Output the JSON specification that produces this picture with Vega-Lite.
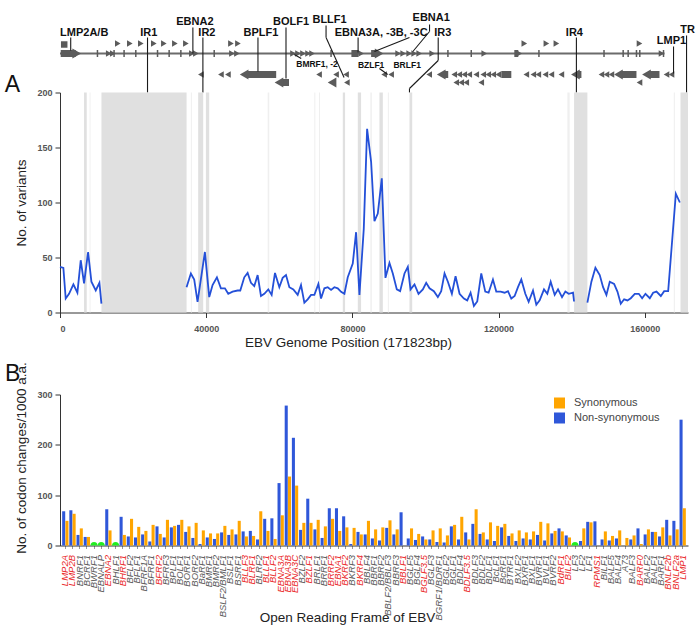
{
  "$schema": "https://vega.github.io/schema/vega-lite/v6.json",
  "padding": {"left": 4, "top": 11.5, "right": 5, "bottom": 5},
  "background": "white",
  "bounds": "flush",
  "spacing": 82,
  "config": {
    "view": {"stroke": null},
    "font": "Liberation Sans",
    "axis": {"grid": false, "domainColor": "#333", "domainWidth": 1, "tickColor": "#333", "tickSize": 5, "labelColor": "#555", "labelFontSize": 9, "labelFontWeight": "bold", "titleFontSize": 13.5, "titleFontWeight": "normal", "titleColor": "#222"},
    "title": {"fontSize": 23, "fontWeight": "normal", "color": "#111", "anchor": "start", "frame": "group"}
  },
  "datasets": {
    "backbone": [{"start": 0, "end": 165400, "row": 53}],
    "blocks": [
      {"start": 192, "end": 4301, "row": 53},
      {"start": 79729, "end": 81647, "row": 53},
      {"start": 85123, "end": 86767, "row": 53},
      {"start": 124299, "end": 125394, "row": 53},
      {"start": 50929, "end": 59148, "row": 74},
      {"start": 104849, "end": 106218, "row": 74},
      {"start": 120740, "end": 123480, "row": 74},
      {"start": 141563, "end": 142659, "row": 74},
      {"start": 153340, "end": 157723, "row": 74},
      {"start": 161009, "end": 164022, "row": 74},
      {"start": 60466, "end": 62658, "row": 82}
    ],
    "ticks": [
      {"pos": 10247, "row": 53}, {"pos": 14794, "row": 53}, {"pos": 17534, "row": 53}, {"pos": 20740, "row": 53},
      {"pos": 26685, "row": 53}, {"pos": 29863, "row": 53}, {"pos": 33068, "row": 53}, {"pos": 42191, "row": 53},
      {"pos": 74164, "row": 53}, {"pos": 106136, "row": 53}, {"pos": 112520, "row": 53}, {"pos": 131038, "row": 53},
      {"pos": 148846, "row": 53}, {"pos": 154083, "row": 53}, {"pos": 155452, "row": 53}, {"pos": 157726, "row": 53},
      {"pos": 158630, "row": 53}, {"pos": 165123, "row": 53}
    ],
    "arrows": [
      {"pos": 1151, "row": 44, "strand": "."},
      {"pos": 15808, "row": 43, "strand": "+"}, {"pos": 19096, "row": 43, "strand": "+"}, {"pos": 22109, "row": 43, "strand": "+"},
      {"pos": 25671, "row": 43, "strand": "+"}, {"pos": 28411, "row": 43, "strand": "+"}, {"pos": 31424, "row": 43, "strand": "+"},
      {"pos": 34438, "row": 43, "strand": "+"}, {"pos": 46767, "row": 43, "strand": "+"}, {"pos": 48685, "row": 43, "strand": "+"},
      {"pos": 127042, "row": 43, "strand": "+"}, {"pos": 133069, "row": 43, "strand": "+"}, {"pos": 135809, "row": 43, "strand": "+"},
      {"pos": 158548, "row": 43, "strand": "+"},
      {"pos": 13342, "row": 53, "strand": "+"}, {"pos": 14438, "row": 53, "strand": "+"}, {"pos": 36082, "row": 53, "strand": "+"},
      {"pos": 37178, "row": 53, "strand": "+"}, {"pos": 47041, "row": 53, "strand": "+"}, {"pos": 48411, "row": 53, "strand": "+"},
      {"pos": 63752, "row": 53, "strand": "+"}, {"pos": 65123, "row": 53, "strand": "+"}, {"pos": 66492, "row": 53, "strand": "+"},
      {"pos": 67862, "row": 53, "strand": "+"}, {"pos": 68958, "row": 53, "strand": "+"}, {"pos": 82383, "row": 53, "strand": "+"},
      {"pos": 92518, "row": 53, "strand": "+"}, {"pos": 93888, "row": 53, "strand": "+"}, {"pos": 95532, "row": 53, "strand": "+"},
      {"pos": 96901, "row": 53, "strand": "+"}, {"pos": 98271, "row": 53, "strand": "+"}, {"pos": 101832, "row": 53, "strand": "+"},
      {"pos": 116079, "row": 53, "strand": "+"}, {"pos": 125668, "row": 53, "strand": "+"}, {"pos": 164575, "row": 53, "strand": "+"},
      {"pos": 38548, "row": 74, "strand": "-"}, {"pos": 44027, "row": 74, "strand": "-"}, {"pos": 45945, "row": 74, "strand": "-"},
      {"pos": 70877, "row": 74, "strand": "-"}, {"pos": 75535, "row": 74, "strand": "-"}, {"pos": 78274, "row": 74, "strand": "-"},
      {"pos": 88687, "row": 74, "strand": "-"}, {"pos": 90604, "row": 74, "strand": "-"}, {"pos": 101015, "row": 74, "strand": "-"},
      {"pos": 107864, "row": 74, "strand": "-"}, {"pos": 109233, "row": 74, "strand": "-"}, {"pos": 110603, "row": 74, "strand": "-"},
      {"pos": 111973, "row": 74, "strand": "-"}, {"pos": 113891, "row": 74, "strand": "-"}, {"pos": 115809, "row": 74, "strand": "-"},
      {"pos": 117179, "row": 74, "strand": "-"}, {"pos": 118549, "row": 74, "strand": "-"}, {"pos": 119918, "row": 74, "strand": "-"},
      {"pos": 127590, "row": 74, "strand": "-"}, {"pos": 129508, "row": 74, "strand": "-"}, {"pos": 130878, "row": 74, "strand": "-"},
      {"pos": 132795, "row": 74, "strand": "-"}, {"pos": 134439, "row": 74, "strand": "-"}, {"pos": 137179, "row": 74, "strand": "-"},
      {"pos": 148137, "row": 74, "strand": "-"}, {"pos": 149507, "row": 74, "strand": "-"}, {"pos": 150877, "row": 74, "strand": "-"},
      {"pos": 165945, "row": 74, "strand": "-"}, {"pos": 167316, "row": 74, "strand": "-"},
      {"pos": 78500, "row": 82, "strand": "-"}, {"pos": 108412, "row": 82, "strand": "-"}, {"pos": 109781, "row": 82, "strand": "-"},
      {"pos": 111151, "row": 82, "strand": "-"}, {"pos": 115260, "row": 82, "strand": "-"}, {"pos": 158548, "row": 82, "strand": "-"}
    ],
    "heads": [
      {"pos": 4575, "row": 53, "strand": "+"}, {"pos": 87314, "row": 53, "strand": "+"},
      {"pos": 50381, "row": 74, "strand": "-"}, {"pos": 104301, "row": 74, "strand": "-"}, {"pos": 141015, "row": 74, "strand": "-"},
      {"pos": 152792, "row": 74, "strand": "-"}, {"pos": 160461, "row": 74, "strand": "-"},
      {"pos": 59918, "row": 82, "strand": "-"}, {"pos": 74437, "row": 82, "strand": "-"}
    ],
    "leaders": [
      {"x1": 2931, "r1": 37, "x2": 2931, "r2": 50},
      {"x1": 23945, "r1": 37, "x2": 23945, "r2": 92},
      {"x1": 36356, "r1": 27, "x2": 36356, "r2": 53},
      {"x1": 39096, "r1": 37, "x2": 39096, "r2": 92},
      {"x1": 54163, "r1": 37, "x2": 54163, "r2": 71},
      {"x1": 61834, "r1": 27, "x2": 61834, "r2": 78},
      {"x1": 72793, "r1": 25, "x2": 72793, "r2": 37},
      {"x1": 72793, "r1": 37, "x2": 77724, "r2": 77},
      {"x1": 66000, "r1": 58, "x2": 64107, "r2": 54},
      {"x1": 81560, "r1": 37, "x2": 81560, "r2": 52},
      {"x1": 95620, "r1": 37, "x2": 86030, "r2": 51},
      {"x1": 101105, "r1": 24, "x2": 101105, "r2": 31},
      {"x1": 101105, "r1": 31, "x2": 96547, "r2": 51},
      {"x1": 103478, "r1": 37, "x2": 103478, "r2": 60},
      {"x1": 103478, "r1": 60, "x2": 95617, "r2": 88},
      {"x1": 95617, "r1": 88, "x2": 95617, "r2": 92},
      {"x1": 87382, "r1": 68, "x2": 89666, "r2": 74},
      {"x1": 141289, "r1": 37, "x2": 141289, "r2": 92},
      {"x1": 171425, "r1": 35, "x2": 171425, "r2": 92},
      {"x1": 167864, "r1": 46, "x2": 167864, "r2": 73}
    ],
    "maplabels": [
      {"label": "LMP2A/B", "pos": 6630, "row": 32, "cls": "major"},
      {"label": "IR1", "pos": 24301, "row": 32, "cls": "major"},
      {"label": "EBNA2", "pos": 36904, "row": 21, "cls": "major"},
      {"label": "IR2", "pos": 40192, "row": 32, "cls": "major"},
      {"label": "BPLF1", "pos": 54985, "row": 32, "cls": "major"},
      {"label": "BOLF1", "pos": 63204, "row": 21, "cls": "major"},
      {"label": "BLLF1", "pos": 73753, "row": 19, "cls": "major"},
      {"label": "EBNA3A, -3B, -3C", "pos": 87862, "row": 32, "cls": "major"},
      {"label": "EBNA1", "pos": 101562, "row": 17, "cls": "major"},
      {"label": "IR3", "pos": 104712, "row": 32, "cls": "major"},
      {"label": "IR4", "pos": 140739, "row": 32, "cls": "major"},
      {"label": "TR", "pos": 171699, "row": 29, "cls": "major"},
      {"label": "LMP1", "pos": 167316, "row": 40, "cls": "major"},
      {"label": "BMRF1, -2", "pos": 70329, "row": 63, "cls": "minor"},
      {"label": "BZLF1", "pos": 85123, "row": 64, "cls": "minor"},
      {"label": "BRLF1", "pos": 94986, "row": 64, "cls": "minor"}
    ],
    "panelletters": [{"label": "A", "pos": -15150, "row": 91}],
    "bands": [
      {"start": 6575, "end": 7315, "kind": "major"},
      {"start": 8100, "end": 8350, "kind": "minor"},
      {"start": 11342, "end": 34630, "kind": "major"},
      {"start": 35808, "end": 36082, "kind": "minor"},
      {"start": 37808, "end": 39178, "kind": "major"},
      {"start": 39918, "end": 40822, "kind": "major"},
      {"start": 56822, "end": 57260, "kind": "minor"},
      {"start": 69588, "end": 69863, "kind": "minor"},
      {"start": 70877, "end": 71150, "kind": "minor"},
      {"start": 77370, "end": 78000, "kind": "major"},
      {"start": 81480, "end": 82380, "kind": "major"},
      {"start": 84930, "end": 85310, "kind": "minor"},
      {"start": 87400, "end": 88330, "kind": "major"},
      {"start": 89700, "end": 89970, "kind": "minor"},
      {"start": 95620, "end": 96360, "kind": "major"},
      {"start": 138820, "end": 139450, "kind": "minor"},
      {"start": 140650, "end": 144300, "kind": "major"},
      {"start": 167940, "end": 168220, "kind": "minor"},
      {"start": 169780, "end": 171823, "kind": "major"}
    ],
    "variants": [
      {"pos": 0, "n": 41.5, "seg": 1}, {"pos": 923, "n": 40.5, "seg": 1}, {"pos": 1562, "n": 12.7, "seg": 1}, {"pos": 2475, "n": 17, "seg": 1},
      {"pos": 3663, "n": 25.5, "seg": 1}, {"pos": 4759, "n": 18, "seg": 1}, {"pos": 5671, "n": 47.5, "seg": 1}, {"pos": 6584, "n": 26.4, "seg": 1},
      {"pos": 7680, "n": 55, "seg": 1}, {"pos": 8594, "n": 28, "seg": 1}, {"pos": 9781, "n": 20, "seg": 1}, {"pos": 10786, "n": 27, "seg": 1},
      {"pos": 11334, "n": 8, "seg": 1},
      {"pos": 34622, "n": 23, "seg": 2}, {"pos": 35808, "n": 35.5, "seg": 2}, {"pos": 36722, "n": 30, "seg": 2}, {"pos": 37634, "n": 9.7, "seg": 2},
      {"pos": 39643, "n": 55, "seg": 2}, {"pos": 40829, "n": 14, "seg": 2}, {"pos": 41745, "n": 25, "seg": 2}, {"pos": 42931, "n": 32, "seg": 2},
      {"pos": 44027, "n": 22, "seg": 2}, {"pos": 45123, "n": 22, "seg": 2}, {"pos": 46035, "n": 17, "seg": 2}, {"pos": 47224, "n": 19, "seg": 2},
      {"pos": 48594, "n": 20, "seg": 2}, {"pos": 49323, "n": 20, "seg": 2}, {"pos": 50419, "n": 32, "seg": 2}, {"pos": 51333, "n": 36, "seg": 2},
      {"pos": 52246, "n": 27, "seg": 2}, {"pos": 53158, "n": 24, "seg": 2}, {"pos": 54073, "n": 34, "seg": 2}, {"pos": 54986, "n": 15, "seg": 2},
      {"pos": 55898, "n": 17, "seg": 2}, {"pos": 56994, "n": 21, "seg": 2}, {"pos": 57909, "n": 16, "seg": 2}, {"pos": 58822, "n": 36, "seg": 2},
      {"pos": 60008, "n": 23, "seg": 2}, {"pos": 60923, "n": 31.5, "seg": 2}, {"pos": 61836, "n": 34, "seg": 2}, {"pos": 62749, "n": 23, "seg": 2},
      {"pos": 63844, "n": 21, "seg": 2}, {"pos": 65033, "n": 16, "seg": 2}, {"pos": 65945, "n": 25, "seg": 2}, {"pos": 66858, "n": 9, "seg": 2},
      {"pos": 67772, "n": 12, "seg": 2}, {"pos": 68685, "n": 16, "seg": 2}, {"pos": 69598, "n": 16, "seg": 2}, {"pos": 70694, "n": 26, "seg": 2},
      {"pos": 71424, "n": 12.7, "seg": 2}, {"pos": 72337, "n": 22, "seg": 2}, {"pos": 73251, "n": 23, "seg": 2}, {"pos": 74164, "n": 20.6, "seg": 2},
      {"pos": 75077, "n": 23, "seg": 2}, {"pos": 75991, "n": 22, "seg": 2}, {"pos": 76904, "n": 18.8, "seg": 2}, {"pos": 77816, "n": 17, "seg": 2},
      {"pos": 78729, "n": 32, "seg": 2}, {"pos": 80099, "n": 44.5, "seg": 2}, {"pos": 81012, "n": 73, "seg": 2}, {"pos": 81926, "n": 16, "seg": 2},
      {"pos": 83113, "n": 76, "seg": 2}, {"pos": 84026, "n": 167, "seg": 2}, {"pos": 85122, "n": 137, "seg": 2}, {"pos": 86035, "n": 83, "seg": 2},
      {"pos": 86948, "n": 90, "seg": 2}, {"pos": 88044, "n": 122, "seg": 2}, {"pos": 89048, "n": 31.5, "seg": 2}, {"pos": 90144, "n": 45, "seg": 2},
      {"pos": 91057, "n": 35.5, "seg": 2}, {"pos": 92153, "n": 21, "seg": 2}, {"pos": 93066, "n": 19.4, "seg": 2}, {"pos": 94254, "n": 35.5, "seg": 2},
      {"pos": 95167, "n": 41.5, "seg": 2}, {"pos": 95898, "n": 21, "seg": 2}, {"pos": 96993, "n": 25.5, "seg": 2}, {"pos": 98089, "n": 17, "seg": 2},
      {"pos": 99276, "n": 21, "seg": 2}, {"pos": 100190, "n": 27, "seg": 2}, {"pos": 101103, "n": 22, "seg": 2}, {"pos": 102290, "n": 19.4, "seg": 2},
      {"pos": 103386, "n": 14, "seg": 2}, {"pos": 104299, "n": 19.4, "seg": 2}, {"pos": 105212, "n": 35.5, "seg": 2}, {"pos": 106126, "n": 28, "seg": 2},
      {"pos": 107222, "n": 17, "seg": 2}, {"pos": 108226, "n": 33, "seg": 2}, {"pos": 109322, "n": 17, "seg": 2}, {"pos": 110509, "n": 12.7, "seg": 2},
      {"pos": 111423, "n": 11, "seg": 2}, {"pos": 112336, "n": 18, "seg": 2}, {"pos": 113249, "n": 6, "seg": 2}, {"pos": 114162, "n": 10, "seg": 2},
      {"pos": 115258, "n": 35.5, "seg": 2}, {"pos": 116354, "n": 19, "seg": 2}, {"pos": 117267, "n": 18, "seg": 2}, {"pos": 118454, "n": 30, "seg": 2},
      {"pos": 119367, "n": 19, "seg": 2}, {"pos": 120554, "n": 19, "seg": 2}, {"pos": 121650, "n": 18, "seg": 2}, {"pos": 122563, "n": 19.4, "seg": 2},
      {"pos": 123476, "n": 12.7, "seg": 2}, {"pos": 124389, "n": 15, "seg": 2}, {"pos": 125303, "n": 23, "seg": 2}, {"pos": 126216, "n": 30, "seg": 2},
      {"pos": 127312, "n": 17, "seg": 2}, {"pos": 128225, "n": 9.7, "seg": 2}, {"pos": 129412, "n": 20, "seg": 2}, {"pos": 130325, "n": 7, "seg": 2},
      {"pos": 131238, "n": 11, "seg": 2}, {"pos": 132425, "n": 21, "seg": 2}, {"pos": 133339, "n": 17, "seg": 2}, {"pos": 134252, "n": 28, "seg": 2},
      {"pos": 135348, "n": 16, "seg": 2}, {"pos": 136261, "n": 21, "seg": 2}, {"pos": 137357, "n": 14, "seg": 2}, {"pos": 138270, "n": 19, "seg": 2},
      {"pos": 139183, "n": 17, "seg": 2}, {"pos": 140370, "n": 18, "seg": 2}, {"pos": 140644, "n": 10, "seg": 2},
      {"pos": 144297, "n": 9, "seg": 3}, {"pos": 145393, "n": 28, "seg": 3}, {"pos": 146489, "n": 40.6, "seg": 3}, {"pos": 147676, "n": 34, "seg": 3},
      {"pos": 148589, "n": 23, "seg": 3}, {"pos": 149502, "n": 16, "seg": 3}, {"pos": 150416, "n": 28, "seg": 3}, {"pos": 151603, "n": 26, "seg": 3},
      {"pos": 152516, "n": 19, "seg": 3}, {"pos": 153429, "n": 8, "seg": 3}, {"pos": 154343, "n": 12, "seg": 3}, {"pos": 155256, "n": 11, "seg": 3},
      {"pos": 156169, "n": 13, "seg": 3}, {"pos": 157265, "n": 17, "seg": 3}, {"pos": 158361, "n": 17, "seg": 3}, {"pos": 159274, "n": 13, "seg": 3},
      {"pos": 160187, "n": 17, "seg": 3}, {"pos": 161374, "n": 13, "seg": 3}, {"pos": 162287, "n": 18, "seg": 3}, {"pos": 163201, "n": 19, "seg": 3},
      {"pos": 164388, "n": 15, "seg": 3}, {"pos": 165301, "n": 19.4, "seg": 3}, {"pos": 166397, "n": 19.4, "seg": 3}, {"pos": 168498, "n": 108, "seg": 3},
      {"pos": 169594, "n": 100, "seg": 3}
    ],
    "orfs": [
      {"orf": "LMP2A", "Non-synonymous": 68, "Synonymous": 49},
      {"orf": "LMP2B", "Non-synonymous": 70, "Synonymous": 63},
      {"orf": "BNRF1", "Non-synonymous": 21, "Synonymous": 34},
      {"orf": "BCRF1", "Non-synonymous": 17, "Synonymous": 17},
      {"orf": "BWRF1", "Non-synonymous": 0, "Synonymous": 0},
      {"orf": "EBNALP", "Non-synonymous": 0, "Synonymous": 0},
      {"orf": "EBNA2", "Non-synonymous": 72, "Synonymous": 30},
      {"orf": "BHLF1", "Non-synonymous": 0, "Synonymous": 0},
      {"orf": "BHRF1", "Non-synonymous": 57, "Synonymous": 21},
      {"orf": "BFLF2", "Non-synonymous": 18, "Synonymous": 53},
      {"orf": "BFLF1", "Non-synonymous": 16, "Synonymous": 37},
      {"orf": "BFRF1A", "Non-synonymous": 22, "Synonymous": 29},
      {"orf": "BFRF1", "Non-synonymous": 8, "Synonymous": 41},
      {"orf": "BFRF2", "Non-synonymous": 38, "Synonymous": 23},
      {"orf": "BFRF3", "Non-synonymous": 16, "Synonymous": 51},
      {"orf": "BPLF1", "Non-synonymous": 36, "Synonymous": 39},
      {"orf": "BOLF1", "Non-synonymous": 41, "Synonymous": 51},
      {"orf": "BORF1", "Non-synonymous": 27, "Synonymous": 38},
      {"orf": "BORF2", "Non-synonymous": 15, "Synonymous": 45},
      {"orf": "BaRF1", "Non-synonymous": 3, "Synonymous": 30},
      {"orf": "BMRF1", "Non-synonymous": 16, "Synonymous": 24},
      {"orf": "BMRF2", "Non-synonymous": 13, "Synonymous": 24},
      {"orf": "BSLF2/BMLF1", "Non-synonymous": 26, "Synonymous": 39},
      {"orf": "BSLF1", "Non-synonymous": 21, "Synonymous": 32},
      {"orf": "BSRF1", "Non-synonymous": 22, "Synonymous": 49},
      {"orf": "BLLF3", "Non-synonymous": 28, "Synonymous": 18},
      {"orf": "BLRF1", "Non-synonymous": 29, "Synonymous": 19},
      {"orf": "BLRF2", "Non-synonymous": 12, "Synonymous": 68},
      {"orf": "BLLF1", "Non-synonymous": 53, "Synonymous": 29},
      {"orf": "BLLF2", "Non-synonymous": 54, "Synonymous": 13},
      {"orf": "EBNA3A", "Non-synonymous": 124, "Synonymous": 60},
      {"orf": "EBNA3B", "Non-synonymous": 278, "Synonymous": 137},
      {"orf": "EBNA3C", "Non-synonymous": 214, "Synonymous": 119},
      {"orf": "BZLF2", "Non-synonymous": 31, "Synonymous": 45},
      {"orf": "BZLF1", "Non-synonymous": 93, "Synonymous": 45},
      {"orf": "BRLF1", "Non-synonymous": 32, "Synonymous": 51},
      {"orf": "BRRF1", "Non-synonymous": 15, "Synonymous": 38},
      {"orf": "BRRF2", "Non-synonymous": 74, "Synonymous": 53},
      {"orf": "EBNA1", "Non-synonymous": 74, "Synonymous": 29},
      {"orf": "BKRF2", "Non-synonymous": 58, "Synonymous": 36},
      {"orf": "BKRF3", "Non-synonymous": 3, "Synonymous": 35},
      {"orf": "BKRF4", "Non-synonymous": 27, "Synonymous": 22},
      {"orf": "BBLF4", "Non-synonymous": 22, "Synonymous": 49},
      {"orf": "BBRF1", "Non-synonymous": 14, "Synonymous": 32},
      {"orf": "BBRF2", "Non-synonymous": 10, "Synonymous": 36},
      {"orf": "BBLF2/BBLF3", "Non-synonymous": 35, "Synonymous": 50},
      {"orf": "BBRF3", "Non-synonymous": 22, "Synonymous": 32},
      {"orf": "BBLF1", "Non-synonymous": 66, "Synonymous": 0},
      {"orf": "BGLF5", "Non-synonymous": 14, "Synonymous": 34},
      {"orf": "BGLF4", "Non-synonymous": 11, "Synonymous": 23},
      {"orf": "BGLF3.5", "Non-synonymous": 18, "Synonymous": 12},
      {"orf": "BGLF3", "Non-synonymous": 12, "Synonymous": 30},
      {"orf": "BGRF1/BDRF1", "Non-synonymous": 7, "Synonymous": 34},
      {"orf": "BGLF2", "Non-synonymous": 6, "Synonymous": 20},
      {"orf": "BGLF1", "Non-synonymous": 38, "Synonymous": 41},
      {"orf": "BDLF4", "Non-synonymous": 12, "Synonymous": 57},
      {"orf": "BDLF3.5", "Non-synonymous": 26, "Synonymous": 12},
      {"orf": "BDLF3", "Non-synonymous": 43, "Synonymous": 72},
      {"orf": "BDLF2", "Non-synonymous": 23, "Synonymous": 26},
      {"orf": "BDLF1", "Non-synonymous": 12, "Synonymous": 46},
      {"orf": "BcLF1", "Non-synonymous": 9, "Synonymous": 39},
      {"orf": "BcRF1", "Non-synonymous": 36, "Synonymous": 43},
      {"orf": "BTRF1", "Non-synonymous": 19, "Synonymous": 24},
      {"orf": "BXLF2", "Non-synonymous": 9, "Synonymous": 30},
      {"orf": "BXRF1", "Non-synonymous": 14, "Synonymous": 26},
      {"orf": "BXLF1", "Non-synonymous": 12, "Synonymous": 28},
      {"orf": "BVRF1", "Non-synonymous": 21, "Synonymous": 47},
      {"orf": "BVLF1", "Non-synonymous": 10, "Synonymous": 44},
      {"orf": "BVRF2", "Non-synonymous": 24, "Synonymous": 29},
      {"orf": "BdRF1", "Non-synonymous": 34, "Synonymous": 28},
      {"orf": "BILF2", "Non-synonymous": 20, "Synonymous": 16},
      {"orf": "LF3", "Non-synonymous": 0, "Synonymous": 0},
      {"orf": "LF2", "Non-synonymous": 9, "Synonymous": 34},
      {"orf": "LF1", "Non-synonymous": 47, "Synonymous": 46},
      {"orf": "RPMS1", "Non-synonymous": 48, "Synonymous": 0},
      {"orf": "BILF1", "Non-synonymous": 12, "Synonymous": 28},
      {"orf": "BALF5", "Non-synonymous": 10, "Synonymous": 19},
      {"orf": "BALF4", "Non-synonymous": 14, "Synonymous": 30},
      {"orf": "A73", "Non-synonymous": 0, "Synonymous": 15},
      {"orf": "BALF3", "Non-synonymous": 12, "Synonymous": 20},
      {"orf": "BARF0", "Non-synonymous": 34, "Synonymous": 3},
      {"orf": "BALF2", "Non-synonymous": 22, "Synonymous": 32},
      {"orf": "BALF1", "Non-synonymous": 27, "Synonymous": 27},
      {"orf": "BARF1", "Non-synonymous": 18, "Synonymous": 36},
      {"orf": "BNLF2b", "Non-synonymous": 51, "Synonymous": 20},
      {"orf": "BNLF2a", "Non-synonymous": 49, "Synonymous": 32},
      {"orf": "LMP1", "Non-synonymous": 250, "Synonymous": 74}
    ]
  },
  "vconcat": [
    {
      "width": 628,
      "height": 220,
      "resolve": {"scale": {"y": "independent"}, "axis": {"y": "independent"}},
      "layer": [
        {
          "layer": [
            {
              "data": {"name": "backbone"},
              "mark": {"type": "rule", "color": "#6b6b6b", "strokeWidth": 2},
              "encoding": {
                "x": {"field": "start", "type": "quantitative", "scale": {"domain": [0, 171823], "nice": false, "zero": false},
                      "axis": {"values": [0, 40000, 80000, 120000, 160000], "format": "d", "title": "EBV Genome Position (171823bp)", "labelPadding": 7, "titleX": 288, "titleY": 30, "titleBaseline": "middle"}},
                "x2": {"field": "end"},
                "y": {"field": "row", "type": "quantitative", "scale": {"domain": [92, 312], "reverse": true, "nice": false, "zero": false}, "axis": null}
              }
            },
            {
              "data": {"name": "blocks"},
              "mark": {"type": "rule", "color": "#5b5b5b", "strokeWidth": 7, "strokeCap": "butt"},
              "encoding": {
                "x": {"field": "start", "type": "quantitative"},
                "x2": {"field": "end"},
                "y": {"field": "row", "type": "quantitative"}
              }
            },
            {
              "data": {"name": "ticks"},
              "mark": {"type": "tick", "orient": "vertical", "color": "#5b5b5b", "size": 7, "thickness": 1.5, "opacity": 1},
              "encoding": {
                "x": {"field": "pos", "type": "quantitative"},
                "y": {"field": "row", "type": "quantitative"}
              }
            },
            {
              "data": {"name": "arrows"},
              "mark": {"type": "point", "filled": true, "color": "#5b5b5b", "size": 42, "opacity": 1},
              "encoding": {
                "x": {"field": "pos", "type": "quantitative"},
                "y": {"field": "row", "type": "quantitative"},
                "shape": {"field": "strand", "type": "nominal", "scale": {"domain": ["+", "-", "."], "range": ["triangle-right", "triangle-left", "square"]}, "legend": null}
              }
            },
            {
              "data": {"name": "heads"},
              "mark": {"type": "point", "filled": true, "color": "#5b5b5b", "size": 100, "opacity": 1},
              "encoding": {
                "x": {"field": "pos", "type": "quantitative"},
                "y": {"field": "row", "type": "quantitative"},
                "shape": {"field": "strand", "type": "nominal", "legend": null}
              }
            },
            {
              "data": {"name": "leaders"},
              "mark": {"type": "rule", "color": "#1a1a1a", "strokeWidth": 1.1},
              "encoding": {
                "x": {"field": "x1", "type": "quantitative"},
                "x2": {"field": "x2"},
                "y": {"field": "r1", "type": "quantitative"},
                "y2": {"field": "r2"}
              }
            },
            {
              "data": {"name": "maplabels"},
              "transform": [{"filter": "datum.cls == 'major'"}],
              "mark": {"type": "text", "fontWeight": "bold", "fontSize": 11, "color": "#111", "baseline": "middle", "align": "center"},
              "encoding": {
                "x": {"field": "pos", "type": "quantitative"},
                "y": {"field": "row", "type": "quantitative"},
                "text": {"field": "label"}
              }
            },
            {
              "data": {"name": "maplabels"},
              "transform": [{"filter": "datum.cls == 'minor'"}],
              "mark": {"type": "text", "fontWeight": "bold", "fontSize": 8.5, "color": "#111", "baseline": "middle", "align": "center"},
              "encoding": {
                "x": {"field": "pos", "type": "quantitative"},
                "y": {"field": "row", "type": "quantitative"},
                "text": {"field": "label"}
              }
            },
            {
              "data": {"name": "panelletters"},
              "mark": {"type": "text", "fontSize": 23, "color": "#111", "baseline": "alphabetic", "align": "left"},
              "encoding": {
                "x": {"field": "pos", "type": "quantitative"},
                "y": {"field": "row", "type": "quantitative"},
                "text": {"field": "label"}
              }
            }
          ]
        },
        {
          "layer": [
            {
              "data": {"name": "bands"},
              "transform": [{"filter": "datum.kind == 'major'"}],
              "mark": {"type": "rect", "color": "#e0e0e0"},
              "encoding": {
                "x": {"field": "start", "type": "quantitative"},
                "x2": {"field": "end"},
                "y": {"datum": 0, "type": "quantitative", "scale": {"domain": [0, 200], "nice": false},
                      "axis": {"values": [0, 50, 100, 150, 200], "title": "No. of variants", "labelPadding": 3, "titlePadding": 8, "orient": "left"}},
                "y2": {"datum": 200}
              }
            },
            {
              "data": {"name": "bands"},
              "transform": [{"filter": "datum.kind == 'minor'"}],
              "mark": {"type": "rect", "color": "#efefef"},
              "encoding": {
                "x": {"field": "start", "type": "quantitative"},
                "x2": {"field": "end"},
                "y": {"datum": 0, "type": "quantitative"},
                "y2": {"datum": 200}
              }
            },
            {
              "data": {"name": "variants"},
              "mark": {"type": "line", "color": "#2450d8", "strokeWidth": 1.8},
              "encoding": {
                "x": {"field": "pos", "type": "quantitative"},
                "y": {"field": "n", "type": "quantitative", "axis": {"title": "No. of variants"}},
                "detail": {"field": "seg", "type": "nominal"}
              }
            }
          ]
        }
      ]
    },
    {
      "width": 628,
      "height": 151,
      "title": {"text": "B", "dx": -55, "dy": 28},
      "data": {"name": "orfs"},
      "layer": [
        {
          "transform": [{"fold": ["Non-synonymous", "Synonymous"], "as": ["type", "value"]}],
          "mark": {"type": "bar"},
          "encoding": {
            "x": {"field": "orf", "type": "nominal", "sort": null, "scale": {"paddingInner": 0.12, "paddingOuter": 0.3},
                  "axis": {"title": "Open Reading Frame of EBV", "labelAngle": -90, "labelFontStyle": "italic", "labelFontWeight": "normal", "labelFontSize": 9.5,
                           "labelColor": {"condition": {"test": "indexof(['LMP2A','LMP2B','EBNA2','BHRF1','BFRF2','BLLF3','BLRF1','BLLF1','BLLF2','EBNA3A','EBNA3B','EBNA3C','BZLF1','BRRF2','EBNA1','BKRF2','BKRF4','BBLF1','BGLF3.5','BDLF3.5','BdRF1','BILF2','RPMS1','BARF0','BNLF2b','BNLF2a','LMP1'], datum.value) >= 0", "value": "#ea2a2a"}, "value": "#5a5a5a"},
                           "labelOverlap": false, "labelBound": false, "tickSize": 3, "tickColor": "#999", "labelPadding": 6, "titleX": 287, "titleY": 72, "titleBaseline": "middle"}},
            "xOffset": {"field": "type", "type": "nominal", "sort": ["Non-synonymous", "Synonymous"], "scale": {"paddingInner": 0.06}},
            "y": {"field": "value", "type": "quantitative", "scale": {"domain": [0, 300], "nice": false},
                  "axis": {"values": [0, 100, 200, 300], "title": "No. of codon changes/1000 a.a.", "labelPadding": 3, "titlePadding": 8, "titleY": 63}},
            "color": {"field": "type", "type": "nominal", "scale": {"domain": ["Synonymous", "Non-synonymous"], "range": ["#ffa500", "#2f57d9"]},
                      "legend": {"title": null, "orient": "none", "legendX": 494, "legendY": 305, "symbolType": "square", "symbolSize": 121, "symbolStrokeWidth": 0, "labelFontSize": 11, "labelColor": "#444", "labelOffset": 9, "rowPadding": 3}}
          }
        },
        {
          "transform": [{"filter": "datum['Non-synonymous'] == 0 && datum['Synonymous'] == 0"}],
          "mark": {"type": "point", "filled": true, "color": "#22ee22", "size": 50, "opacity": 1, "clip": true},
          "encoding": {
            "x": {"field": "orf", "type": "nominal", "sort": null, "axis": {"title": "Open Reading Frame of EBV"}},
            "y": {"datum": 0, "type": "quantitative"}
          }
        }
      ]
    }
  ]
}
